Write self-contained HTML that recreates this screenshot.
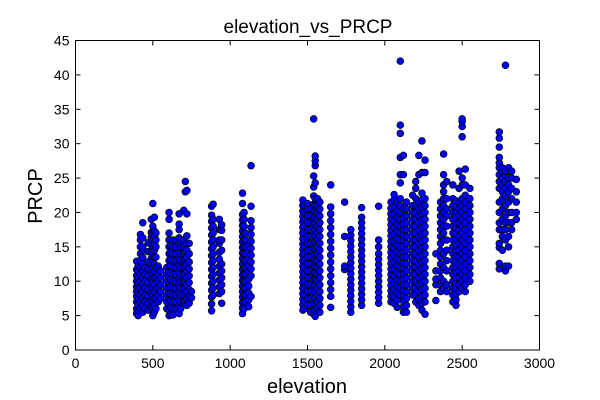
<!DOCTYPE html>
<html><head><meta charset="utf-8"><style>
body{margin:0;background:#fff;}
svg{display:block;font-family:"Liberation Sans",sans-serif;}
</style></head><body>
<svg id="chart" width="600" height="400">
<text x="308" y="33" font-size="19" text-anchor="middle">elevation_vs_PRCP</text>
<text x="307" y="393" font-size="20" text-anchor="middle">elevation</text>
<text transform="translate(42,196) rotate(-90)" font-size="20" text-anchor="middle">PRCP</text>
<g id="points"></g>
<g id="axes"></g>
</svg>
<script>
const xTicks=[0,500,1000,1500,2000,2500,3000];
const yTicks=[0,5,10,15,20,25,30,35,40,45];
const stationElev=[395,405,420,435,450,470,490,500,510,520,535,550,
590,605,615,630,650,670,680,700,710,720,735,750,
880,890,930,945,1080,1090,1100,1120,1135,
1470,1480,1500,1520,1540,1550,1565,1580,1650,1740,1780,1850,1960,
2040,2060,2080,2100,2120,2140,2180,2200,2220,2240,2260,
2330,2360,2380,2400,2440,2460,2480,2500,2520,2550,
2740,2760,2780,2800,2820,2850];
const stationVals=[
[5.3,6,7,7.8,8.5,9.2,10,10.8,11.7,12.9],
[5,5.8,6.6,7.4,8.2,9,9.8,10.6,11.5,12.2],
[6,7,8,9,10,11,12,13,14,15,16,16.8],
[5.5,6.5,7.5,8.5,9.5,10.5,11.5,12.5,13.5,14.5,15,16.3,18.5],
[6,7,8,9,10,11,12],
[5.8,6.8,7.8,8.8,9.8,10.8,11.8,12.8,14.3,15.6],
[6.3,7.3,8.3,9.3,10.3,11.3,12.3,13.3,14.3,15.3,16.4,17.1,19],
[5,6,7,8,9,10,11,12,13,14,15,16,17,18,21.3],
[5.5,6.5,7.5,8.5,9.5,10.5,11.5,12.5,13.5,14.5,15.5,16.5,17.3,19.3],
[6,7.5,9,10.5,12,13.5,15,16,17],
[7,8,9,10,11,12.2],
[7.5,8.5,9.5,10.5,11.5],
[6,7,8,9,10,11,12],
[5,5.8,6.6,7.4,8.2,9,9.8,10.6,11.4,12.2,13,14,15,16,17,19,20],
[5.2,6.2,7.2,8.2,9.2,10.2,11.2,12.2,13.2,14.2,15.2],
[5.1,6,7,8,9,10,11,12,13,14,15,16],
[6,7,8,9,10,11,12,13,14,15,16],
[5.3,6.3,7.3,8.3,9.3,10.3,11.3,12.3,13.3,14.3,15.3,16.3,17.5,18.3,19.8],
[6,7,8,9,10,11,12,13,14,15,16],
[7,8,9,10,11,12,13,14,15,16,20.3],
[7.2,8.2,9.2,10.2,11.2,12.2,13.2,14.2,15.2,23,24.5],
[6.5,7.5,8.5,9.5,10.5,11.5,12.5,13.5,14.5,15.5,16.6,19.8,23.2],
[6.8,7.8,8.8,9.8,10.8,11.8,12.8,14,15.5],
[7.6,8.5],
[5.7,6.7,7.7,8.7,9.7,10.7,11.7,12.7,13.7,14.7,15.7,16.7,17.7,18.7,19.6,20.9],
[8,9,10,11,12,13,14,15,16,17,18,19,21.2],
[8.2,9.2,10.2,11.2,12.2,13.2,14.2,15.5,16,17.5,19],
[6.8,8.5,9.5,10.5,11.5,12.5,14.5,16,17.4,18.2],
[5.3,6.1,6.9,7.7,8.5,9.3,10.1,10.9,11.7,12.5,13.3,14.1,14.9,15.7,16.5,17.3,18.1,18.9,19.7,21.3,22.8],
[6,7,8,9,10,11,12,13,14,15,16,17,18,19,20],
[7,8,9,10,11,12,13,14,15,16,17],
[6.3,7.3,8.3,9.3,10.3,11.3,12.3,13.3,14.3,15.3],
[7.8,10.8,11.8,12.8,13.8,14.8,15.8,16.8,17.8,18.8,20.9,26.8],
[5.8,6.6,7.4,8.2,9,9.8,10.6,11.4,12.2,13,13.8,14.6,15.4,16.2,17,17.8,18.6,19.4,20.2,21,21.8],
[6,7,8,9,10,11,12,13,14,15,16,17,18,19,20,21],
[6.5,7.5,8.5,9.5,10.5,11.5,12.5,13.5,14.5,15.5,16.5,17.5,18.5,19.5,20.5,21.3],
[5.5,6.5,7.5,8.5,9.5,10.5,11.5,12.5,13.5,14.5,15.5,16.5,17.5,18.5,19.5,20.5],
[5.2,6.2,7.2,8.2,9.2,10.2,11.2,12.2,13.2,14.2,15.2,16.2,17.2,18.2,19.2,20.2,21.2,22.4,23.7,25.3,33.6],
[4.9,5.8,6.7,7.6,8.5,9.4,10.3,11.2,12.1,13,13.9,14.8,15.7,16.6,17.5,18.4,19.3,20.2,21.1,22,24.3,26.8,27.5,28.2],
[6,7,8,9,10,11,12,13,14,15,16,17,18,19,20,21,22],
[5.5,6.5,7.5,8.5,9.5,10.5,11.5,12.5,13.5,14.5,15.5,16.5,17.5,18.5,19.5,20.5,21.5],
[6.2,7.8,8.8,9.8,10.8,11.8,12.8,13.8,14.8,15.8,16.8,17.8,18.8,19.8,20.8,24],
[11.7,12.2,16.5,21.5],
[5.5,6.3,7.1,7.9,8.7,9.5,10.3,11.1,11.9,12.7,13.5,14.3,15.1,15.9,16.7,17.5],
[6.5,7.3,8.1,8.9,9.7,10.5,11.3,12.1,12.9,13.7,14.5,15.3,16.1,16.9,17.7,18.5,19.3,20.7],
[6.8,7.6,8.4,9.2,10,10.8,11.6,12.4,13.2,14,15,16,20.9],
[7,7.8,8.6,9.4,10.2,11,11.8,12.6,13.4,14.2,15,15.8,16.6,17.4,18.2,19,19.8,20.6,21.5],
[6.8,7.8,8.8,9.8,10.8,11.8,12.8,13.8,14.8,15.8,16.8,17.8,18.8,19.8,20.8,21.8,22.6],
[6.2,7.2,8.2,9.2,10.2,11.2,12.2,13.2,14.2,15.2,16.2,17.2,18.2,19.2,20.2,21.4],
[8,9,10,11,12,13,14,15,16,17,18,19,20,21,22,24.3,25.5,28,31.5,32.7,42],
[5.5,6.3,7.1,7.9,8.7,9.5,10.3,11.1,11.9,12.7,13.5,14.3,15.1,15.9,16.7,17.5,18.3,19.1,20.5,25.5,28.3],
[5.5,6.5,7.5,8.5,9.5,10.5,11.5,12.5,13.5,14.5,15.5,16.5,17.5,18.5,19.5,20.5,21.5],
[8,9,10,11,12,13,14,15,16,17,18,19,20,21,22.5],
[7,8,9,10,11,12,13,14,15,16,17,18,19,20,21,22,23.5,24.5],
[6.5,7.5,8.5,9.5,10.5,11.5,12.5,13.5,14.5,15.5,16.5,17.5,18.5,19.5,20.5,21.5,25.5,28.3],
[5.8,6.8,7.8,8.8,9.8,10.8,11.8,12.8,13.8,14.8,15.8,16.8,17.8,18.8,19.8,20.8,21.8,22.8,25.8,30.4],
[5.2,7,8,9,10,11,12,13,14,15,16,17,18,19,20,21,22,25.8,27.6],
[7.2,9.5,10.3,11.5,14],
[8.5,9.5,10.5,11.5,12.5,13.5,14.5,15.5,16.5,17.5,18.5,19.5,20.5,21.5],
[9,10,12,14,16,17,18,19,20,21,22,23,24,25.5,28.5],
[8.5,9.5,11.5,13,14.5,16,18,19.5,20.5,22,24.5],
[7,8,9,10,11,12,13,14,15,16,17,18,19,20,21,22,24],
[6.5,7.3,8.1,8.9,9.7,10.5,11.3,12.1,12.9,13.7,14.5,15.3,16.1,16.9,17.7,18.5,19.3,20.1,20.9,21.7],
[8.5,9.5,10.5,11.5,12.5,13.5,14.5,15.5,16.5,17.5,18.5,19.5,20.5,21.5,23.5,26],
[9,10,11,12,13,14,15,16,17,18,19,20,21,22,24,25,31,32.5,33.2,33.6],
[8.5,9.5,10.5,11.5,12.5,13.5,14.5,15.5,16.5,17.5,18.5,19.5,20.5,21.5,22.5,24,26.3],
[10,11,12,13,14,15,16,17,18,19,20,21,22,23.5],
[11.8,12.6,14.9,15.5,17.5,18.5,20,21.5,23.5,24.5,25.5,26.5,27.2,28,29.5,30.8,31.7],
[14.5,16.5,17.5,19,20.5,22,23,24,25,26,26.5],
[11.5,12.2,16,17.5,18.5,19.5,21,22.5,23.5,24.5,25.5,26,41.4],
[12.2,15,16.5,18.5,20,21.5,23,24,25,26.5],
[17.5,18.5,20,22,23.5,25,26],
[19,20,21.5,23,24.8]
];
const NS='http://www.w3.org/2000/svg';
const X0=75.5,X1=539.5,Y0=350,Y1=40.5;
function xs(v){return X0+(v-0)/(3000-0)*(X1-X0);}
function ys(v){return Y0-(v-0)/(45-0)*(Y0-Y1);}
const pg=document.getElementById('points');
stationElev.forEach(function(e,i){
  stationVals[i].forEach(function(v){
    const c=document.createElementNS(NS,'circle');
    c.setAttribute('cx',xs(e));c.setAttribute('cy',ys(v));c.setAttribute('r',3.4);
    c.setAttribute('fill','#0000ff');c.setAttribute('stroke','#000');c.setAttribute('stroke-width',0.7);
    
    
    pg.appendChild(c);
  });
});
const ag=document.getElementById('axes');
const fr=document.createElementNS(NS,'rect');
fr.setAttribute('x',X0);fr.setAttribute('y',Y1);fr.setAttribute('width',X1-X0);fr.setAttribute('height',Y0-Y1);
fr.setAttribute('fill','none');fr.setAttribute('stroke','#000');fr.setAttribute('stroke-width',1);


ag.appendChild(fr);
function line(x1,y1,x2,y2){const l=document.createElementNS(NS,'line');l.setAttribute('x1',x1);l.setAttribute('y1',y1);l.setAttribute('x2',x2);l.setAttribute('y2',y2);l.setAttribute('stroke','#000');l.setAttribute('stroke-width',1);


ag.appendChild(l);}
function txt(x,y,s,anchor,name){const t=document.createElementNS(NS,'text');t.setAttribute('x',x);t.setAttribute('y',y);t.setAttribute('font-size',14);t.setAttribute('text-anchor',anchor);t.textContent=s;


ag.appendChild(t);}
xTicks.forEach(function(v){const x=xs(v);line(x,Y0,x,Y0-5);line(x,Y1,x,Y1+5);txt(x,368,String(v),'middle','x-tick-label');});
yTicks.forEach(function(v){const y=ys(v);line(X0,y,X0+5,y);line(X1,y,X1-5,y);txt(X0-6,y+5,String(v),'end','y-tick-label');});
</script>
</body></html>
